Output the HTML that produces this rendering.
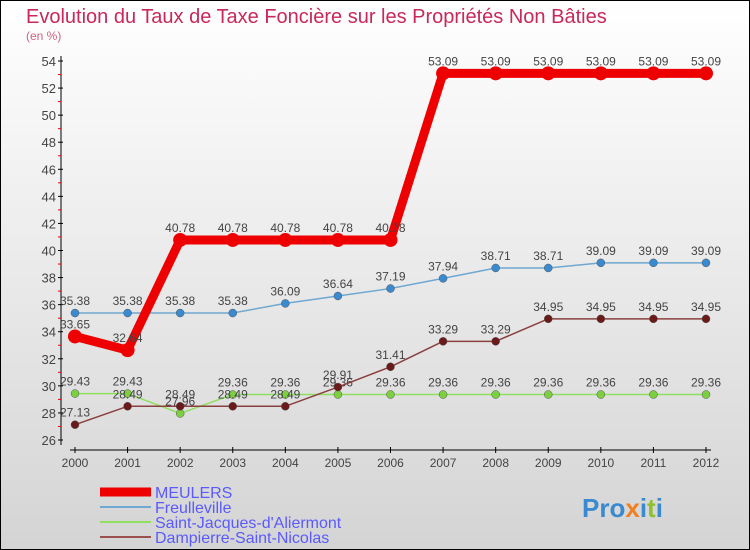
<!DOCTYPE html>
<html><head><meta charset="utf-8"><style>
body{margin:0;width:750px;height:550px;overflow:hidden}
svg{display:block;font-family:"Liberation Sans",sans-serif}
</style></head><body>
<svg width="750" height="550">
<defs><linearGradient id="bg" x1="0" y1="0" x2="0" y2="1"><stop offset="0" stop-color="#ffffff"/><stop offset="1" stop-color="#d4d4d4"/></linearGradient></defs>
<rect x="0.5" y="0.5" width="749" height="549" fill="url(#bg)" stroke="#000"/>
<text x="26" y="23" font-size="20" fill="#c8285a">Evolution du Taux de Taxe Foncière sur les Propriétés Non Bâties</text>
<text x="26" y="40" font-size="12" fill="#d06080">(en %)</text>
<g id="axes"></g>
<g id="series"></g>
<g id="legend"></g>
<text x="582" y="517" font-size="26" font-weight="bold" fill="#3a8ad0">Pro<tspan fill="#f08020">x</tspan><tspan fill="#3a8ad0">i</tspan><tspan fill="#90c030">t</tspan><tspan fill="#3a8ad0">i</tspan></text>
</svg>
<script>
const years=[2000,2001,2002,2003,2004,2005,2006,2007,2008,2009,2010,2011,2012];
const yTicks=[26,28,30,32,34,36,38,40,42,44,46,48,50,52,54];
const meulers=[33.65,32.64,40.78,40.78,40.78,40.78,40.78,53.09,53.09,53.09,53.09,53.09,53.09];
const freulleville=[35.38,35.38,35.38,35.38,36.09,36.64,37.19,37.94,38.71,38.71,39.09,39.09,39.09];
const saintJacques=[29.43,29.43,27.96,29.36,29.36,29.36,29.36,29.36,29.36,29.36,29.36,29.36,29.36];
const dampierre=[27.13,28.49,28.49,28.49,28.49,29.91,31.41,33.29,33.29,34.95,34.95,34.95,34.95];
const seriesNames=["MEULERS","Freulleville","Saint-Jacques-d'Aliermont","Dampierre-Saint-Nicolas"];
const NS="http://www.w3.org/2000/svg";
function X(i){return 75+i*(706-75)/(years.length-1);}
function Y(v){return 440-(v-26)*(440-61)/28;}
function mk(tag,at,parent){const e=document.createElementNS(NS,tag);for(const k in at)e.setAttribute(k,at[k]);parent.appendChild(e);return e;}
const ax=document.getElementById('axes');
let a=mk('line',{x1:61,y1:56,x2:61,y2:445,stroke:'#000'},ax);


a=mk('line',{x1:70,y1:450,x2:711,y2:450,stroke:'#000'},ax);


yTicks.forEach(v=>{const y=Y(v);
 mk('line',{x1:58,y1:y,x2:63,y2:y,stroke:'#000'},ax);
 if(v<54)mk('line',{x1:58,y1:Y(v+1),x2:61,y2:Y(v+1),stroke:'#e00'},ax);
 const t=mk('text',{x:56,y:y+5,'text-anchor':'end','font-size':13,fill:'#444'},ax);t.textContent=v;
 
 });
years.forEach((yr,i)=>{const x=X(i);
 mk('line',{x1:x,y1:447,x2:x,y2:453,stroke:'#000'},ax);
 const t=mk('text',{x:x,y:467,'text-anchor':'middle','font-size':12,fill:'#444'},ax);t.textContent=yr;
 
 });
const sg=document.getElementById('series');
function draw(vals,color,dot,w,r,name){
 const g=mk('g',{},sg);
 
 
 mk('polyline',{points:vals.map((v,i)=>X(i)+','+Y(v)).join(' '),fill:'none',stroke:color,'stroke-width':w,'stroke-linejoin':'round'},g);
 vals.forEach((v,i)=>{const c=mk('circle',{cx:X(i),cy:Y(v),r:r,fill:dot,stroke:w>3?'none':'#555','stroke-width':0.5},g);
  
  
  const t=mk('text',{x:X(i),y:Y(v)-8,'text-anchor':'middle','font-size':12,fill:'#444'},g);t.textContent=v.toFixed(2);
  
  });
}
draw(freulleville,'#6fa8d0','#3a8ad0',1.5,4,'series-freulleville');
draw(saintJacques,'#90e060','#7cd040',1.5,4,'series-saint-jacques');
draw(dampierre,'#8b4040','#6b1a1a',1.5,4,'series-dampierre');
draw(meulers,'#ee0000','#ee0000',9,7,'series-meulers');
const lg=document.getElementById('legend');
const lc=['#ee0000','#6fa8d0','#90e060','#9b5050'],lw=[9,2,2,2];
seriesNames.forEach((n,i)=>{const y=492+i*15;
 const g=mk('g',{},lg);
 
 
 mk('line',{x1:100,y1:y,x2:151,y2:y,stroke:lc[i],'stroke-width':lw[i]},g);
 const t=mk('text',{x:155,y:y+6,'font-size':16,fill:'#5a5aff'},g);t.textContent=n;});
</script>
</body></html>
